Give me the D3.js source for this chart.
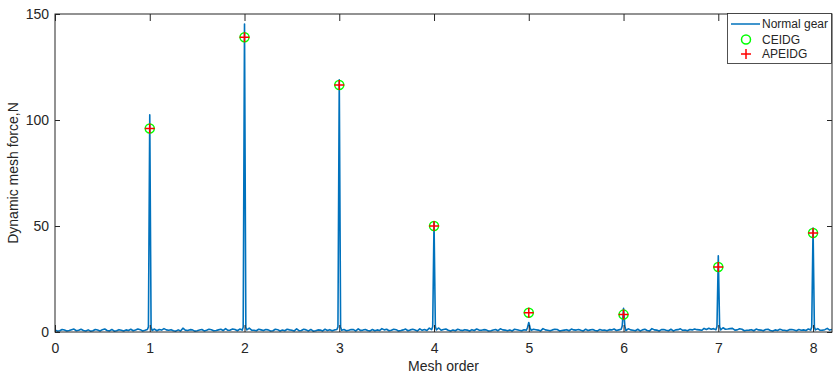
<!DOCTYPE html>
<html><head><meta charset="utf-8">
<script src="https://cdn.jsdelivr.net/npm/d3@7"></script>
<style>body{margin:0;background:#fff}svg{display:block}text{font-family:"Liberation Sans",Arial,sans-serif;fill:#262626}</style>
</head><body><svg id="c" width="833" height="374"></svg>
<script>
// ---- data ----
const baselineStep = 0.05;
// baseline force read at x = 0, 0.05, 0.10, ...
const baseline = [
1.0,0.6,0.9,0.7,1.4,0.8,0.7,1.0,0.6,0.9,1.1,0.7,1.2,0.6,0.8,1.0,1.3,0.9,1.1,0.8,
1.6,1.4,1.2,1.6,0.8,0.6,1.0,1.8,0.7,1.0,0.6,1.2,0.8,1.1,0.7,1.3,1.6,0.9,1.2,1.4,
1.5,1.8,0.8,1.3,0.7,1.0,0.6,1.1,0.9,1.3,0.8,1.5,0.7,1.0,1.2,0.6,0.9,1.3,1.1,1.0,
1.4,1.2,0.8,1.1,1.5,0.9,0.7,1.2,1.0,1.6,1.3,0.8,1.1,0.7,1.4,1.0,0.9,1.5,1.2,1.8,
1.6,1.9,1.2,0.8,1.0,1.3,0.7,0.9,1.1,1.4,0.8,1.0,0.6,1.2,1.5,0.9,1.0,1.3,0.8,1.1,
1.5,1.3,0.9,1.6,0.8,1.0,1.2,0.7,1.1,1.4,0.9,0.8,1.3,1.0,0.7,1.2,0.9,1.1,1.4,1.0,
1.2,1.5,0.8,1.3,1.0,0.7,1.6,0.9,1.1,0.8,1.3,1.0,1.5,0.9,1.2,1.4,1.0,1.7,1.8,1.6,
1.8,2.0,1.4,1.7,1.0,1.3,0.8,1.1,1.4,0.9,1.2,0.7,1.0,1.3,0.8,1.1,0.9,1.2,1.0,1.4,
1.3,1.6,0.9,1.7,1.2
];
// baseline force read at x = 0.025, 0.075, ...
const baselineMid = [
0.4,1.2,0.5,1.1,0.6,1.3,0.5,0.4,1.2,0.5,1.4,0.5,0.4,1.1,0.5,0.7,0.6,1.4,0.5,1.2,
0.7,0.6,0.9,1.0,1.1,0.4,0.5,0.9,1.1,0.4,0.9,0.5,1.3,0.6,1.0,0.7,0.8,1.4,0.6,0.9,
1.0,0.9,0.6,1.0,1.2,0.5,1.3,0.5,0.6,1.0,0.5,0.6,1.3,0.5,0.4,1.0,0.5,0.7,0.6,1.2,
0.8,0.6,1.2,0.5,0.7,1.2,0.5,0.6,0.7,1.0,0.6,1.3,0.5,1.0,0.6,1.3,0.5,0.8,0.7,1.1,
1.0,0.8,1.4,0.5,0.6,0.9,1.1,0.5,0.7,0.9,1.1,0.5,0.9,0.6,1.0,0.6,0.5,1.1,0.6,0.9,
0.8,1.1,0.5,1.0,0.6,1.3,0.5,0.9,0.6,1.0,1.2,0.5,0.7,1.2,0.5,0.8,0.6,1.0,0.7,1.3,
0.7,1.0,0.6,0.5,1.3,0.5,1.0,0.5,1.2,0.6,0.5,1.1,0.8,0.6,1.0,1.1,0.8,1.2,1.3,1.1,
1.0,1.3,1.6,0.9,1.5,0.6,0.9,0.6,1.0,0.6,1.3,0.5,0.7,0.9,0.6,1.2,0.6,0.8,0.7,0.9,
1.0,0.8,1.1,0.9
];
const meshOrders = [1,2,3,4,5,6,7,8];
const peakForce  = [102.4,145.3,119,52,4.5,11.2,36,49];
const peakFoot   = [2.4,2.2,2.4,2.6,2.0,2.8,2.6,2.4];
const ceidg      = [96,139,116.5,50,9.1,8.2,30.7,46.7];
const apeidg     = [96,139,116.5,50,9.1,8.2,30.7,46.7];
const xTicks = [0,1,2,3,4,5,6,7,8];
const yTicks = [0,50,100,150];

// ---- build series ----
let pts = baseline.map((v,i)=>({x:i*baselineStep, y:v}))
  .concat(baselineMid.map((v,i)=>({x:i*baselineStep+baselineStep/2, y:v})))
  .filter(p => !meshOrders.some(k => Math.abs(p.x-k) < 0.02));
meshOrders.forEach((k,i)=>{
  pts.push({x:k-0.014,y:peakFoot[i]},{x:k,y:peakForce[i]},{x:k+0.014,y:peakFoot[i]});
});
pts.sort((a,b)=>a.x-b.x);

// ---- layout ----
const svg = d3.select("#c");
const m = {l:55,r:1,t:14,b:42};
const W = 833, H = 374;
const x = d3.scaleLinear().domain([0,8.2]).range([m.l, W-m.r]);
const y = d3.scaleLinear().domain([0,150]).range([H-m.b, m.t]);
const ink = "#262626";

svg.append("clipPath").attr("id","pc").append("rect")
  .attr("x",m.l).attr("y",m.t).attr("width",W-m.r-m.l).attr("height",H-m.b-m.t);

svg.append("path").datum(pts)
  .attr("clip-path","url(#pc)")
  .attr("fill","none").attr("stroke","#0072BD").attr("stroke-width",1.6)
  .attr("stroke-linejoin","round")
  .attr("d", d3.line().x(d=>x(d.x)).y(d=>y(d.y)));

// axes (inward ticks, box)
const gx = svg.append("g").attr("transform",`translate(0,${y(0)})`)
  .call(d3.axisBottom(x).tickValues(xTicks).tickSize(-7).tickPadding(11).tickFormat(d3.format("d")));
const gxt = svg.append("g").attr("transform",`translate(0,${y(150)})`)
  .call(d3.axisTop(x).tickValues(xTicks).tickSize(-7).tickFormat(""));
const gy = svg.append("g").attr("transform",`translate(${x(0)},0)`)
  .call(d3.axisLeft(y).tickValues(yTicks).tickSize(-5).tickPadding(6));
const gyr = svg.append("g").attr("transform",`translate(${x(8.2)},0)`)
  .call(d3.axisRight(y).tickValues(yTicks).tickSize(-5).tickFormat(""));
[gx,gxt,gy,gyr].forEach(g=>{
  g.selectAll("path.domain").remove();
  g.selectAll(".tick line").attr("stroke",ink);
  g.selectAll(".tick text").style("font-family","'Liberation Sans',Arial,sans-serif")
   .attr("font-size",14).attr("fill",ink);
});
svg.append("rect").attr("x",x(0)).attr("y",y(150)).attr("width",x(8.2)-x(0)).attr("height",y(0)-y(150))
  .attr("fill","none").attr("stroke",ink).attr("stroke-width",1);

// markers
const mk = meshOrders.map((k,i)=>({x:k, c:ceidg[i], a:apeidg[i]}));
svg.append("g").selectAll("circle").data(mk).join("circle")
  .attr("cx",d=>x(d.x)).attr("cy",d=>y(d.c)).attr("r",4.5)
  .attr("fill","none").attr("stroke","#00FF00").attr("stroke-width",1.5);
const plus = (g,cx,cy,s)=>g.append("path").attr("d",`M${cx-s},${cy}H${cx+s}M${cx},${cy-s}V${cy+s}`)
  .attr("stroke","#FF0000").attr("stroke-width",1.5).attr("fill","none");
const pg = svg.append("g");
mk.forEach(d=>plus(pg,x(d.x),y(d.a),5));

// labels
svg.append("text").attr("x",(x(0)+x(8.2))/2).attr("y",371).attr("text-anchor","middle")
  .attr("font-size",14).text("Mesh order");
svg.append("text").attr("transform",`translate(18,${(y(0)+y(150))/2}) rotate(-90)`)
  .attr("text-anchor","middle").attr("font-size",14).text("Dynamic mesh force,N");

// legend
const lg = svg.append("g");
lg.append("rect").attr("x",727.5).attr("y",13.5).attr("width",104).attr("height",50)
  .attr("fill","#fff").attr("stroke",ink).attr("stroke-width",0.8);
lg.append("line").attr("x1",731).attr("x2",760).attr("y1",24).attr("y2",24)
  .attr("stroke","#0072BD").attr("stroke-width",1.5);
lg.append("circle").attr("cx",746).attr("cy",39.5).attr("r",4.5)
  .attr("fill","none").attr("stroke","#00FF00").attr("stroke-width",1.5);
plus(lg,746,54,5);
[["Normal gear",24],["CEIDG",39.5],["APEIDG",54]].forEach(([t,yy])=>{
  lg.append("text").attr("x",762).attr("y",yy).attr("dy","0.35em").attr("font-size",12).text(t);
});
</script></body></html>
